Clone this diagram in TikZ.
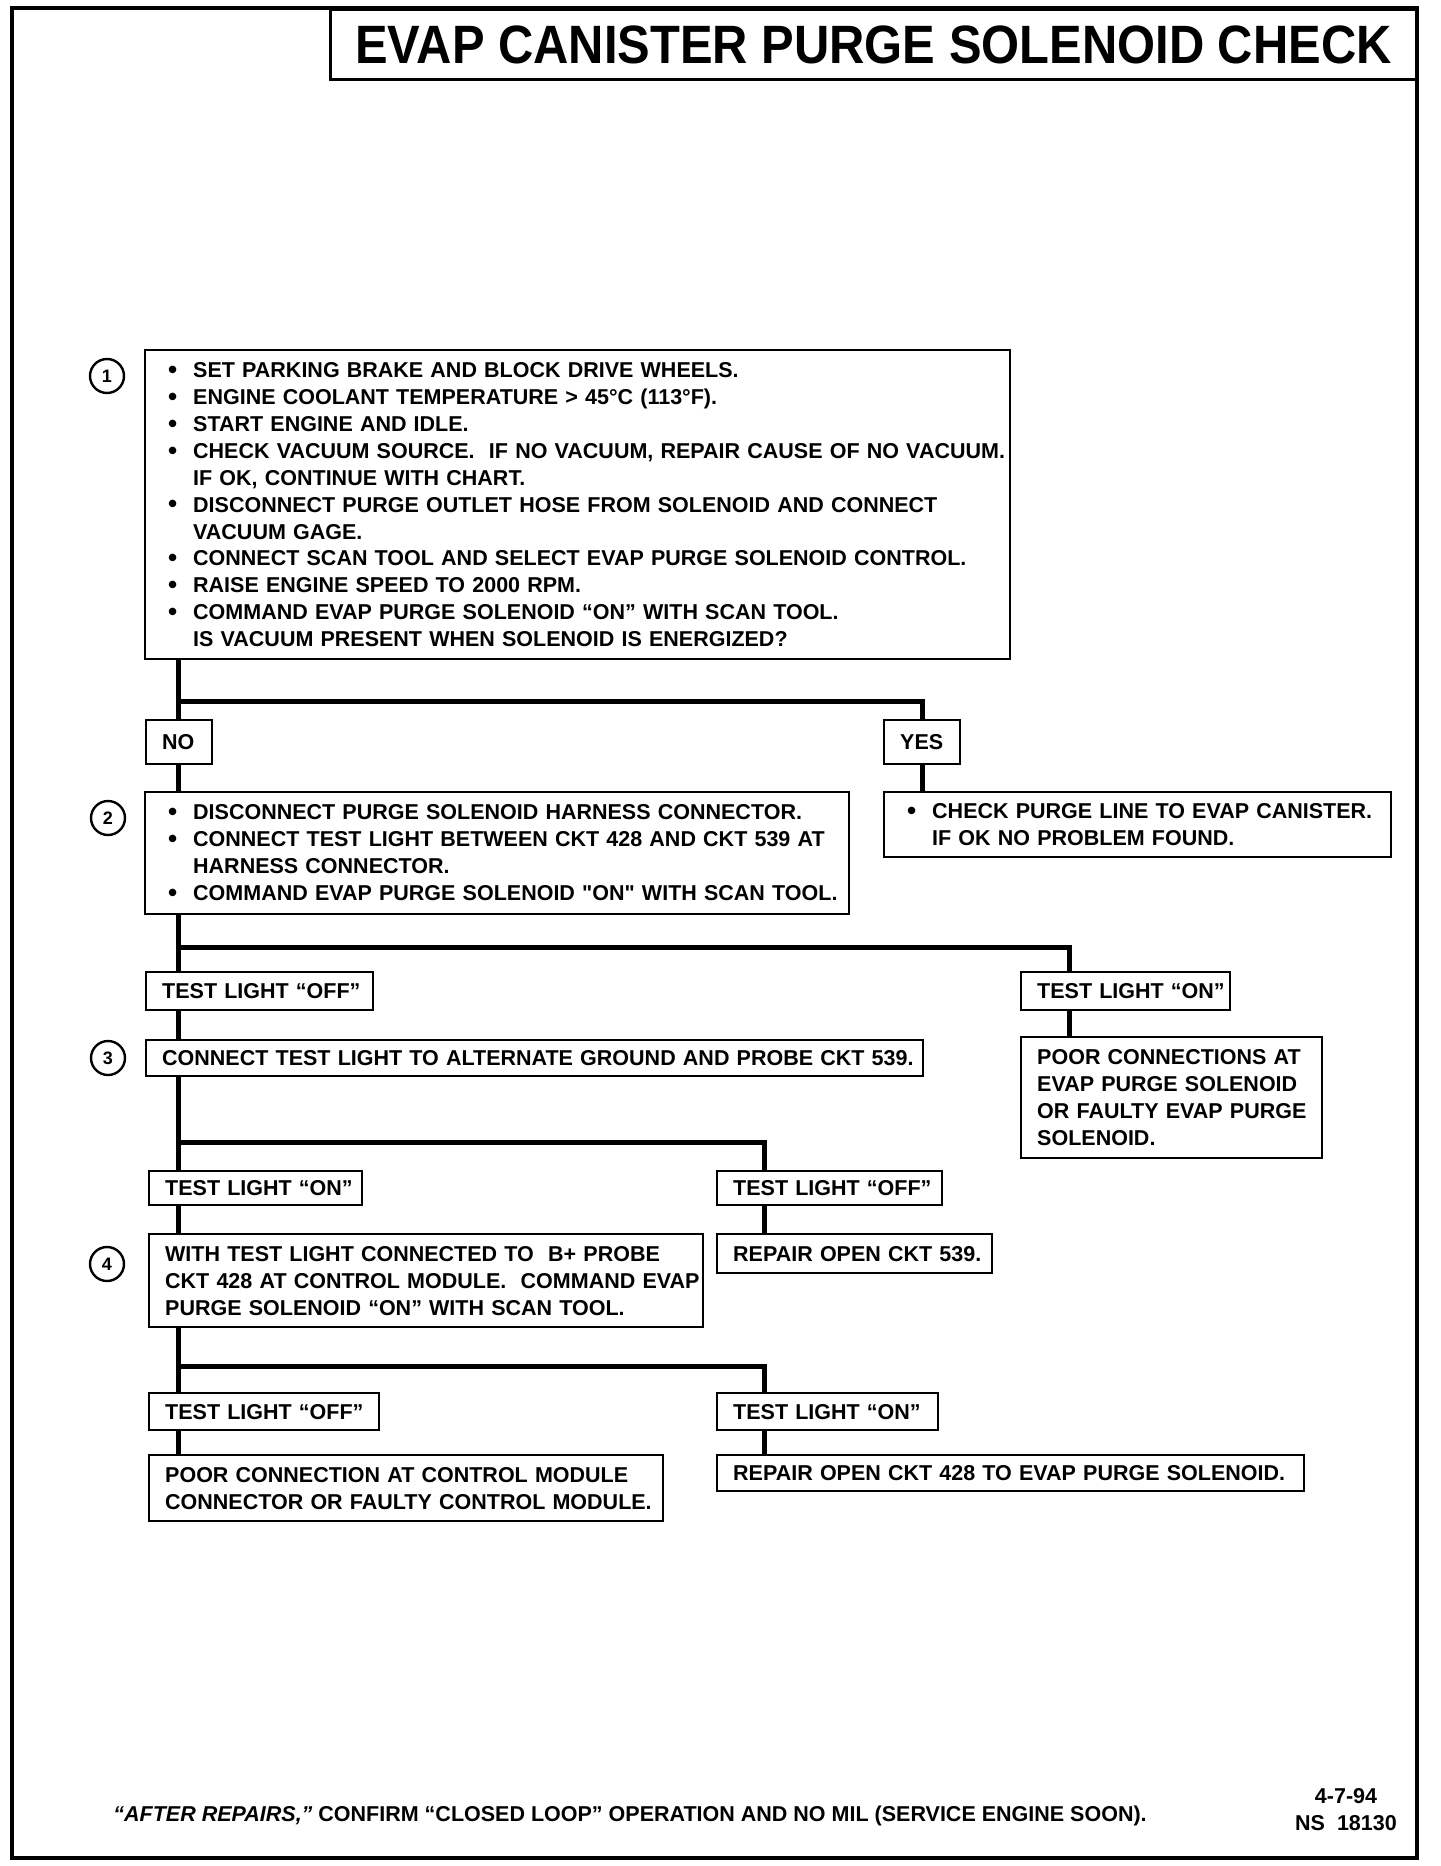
\documentclass[tikz,border=0pt]{standalone}
\usepackage{fontspec}
\setmainfont{Liberation Sans}

% one line of a box, kept whole
\newcommand{\dotmark}{\raisebox{-0.4pt}{\fontsize{13}{13}\selectfont\textbullet}}
\newcommand{\bul}[1]{\hspace*{3.5pt}\makebox[12.5pt][l]{\dotmark}\mbox{#1}}
\newcommand{\cnt}[1]{\hspace*{16pt}\mbox{#1}}
\newcommand{\row}[1]{\mbox{#1}}

\begin{document}
\begin{tikzpicture}[
        x=0.5pt, y=-0.5pt,
        body/.style={font=\fontsize{10.75}{13.45}\selectfont\bfseries},
        stepbox/.style={body, draw, line width=1.2pt, anchor=north west, align=left, inner xsep=8pt, inner ysep=0pt},
        stepnum/.style={draw, circle, line width=1.2pt, minimum size=17pt, inner sep=0pt, font=\fontsize{9}{9}\selectfont\bfseries},
        flow/.style={line width=2.5pt}
    ]

    \useasboundingbox (0,0) rectangle (1440,1866);

    % page frame and title
    \draw[line width=2pt] (12,8) rectangle (1417,1858);
    \node[draw, line width=1.5pt, minimum width=543.5pt, minimum height=35pt, inner sep=0pt,
          font=\fontsize{27}{27}\selectfont\bfseries] (title) at (873.5,45) {\scalebox{0.905}[1]{EVAP CANISTER PURGE SOLENOID CHECK}};

    % step 1
    \node[stepnum] (s1) at (107,376) {1};
    \node[stepbox, text width=416.5pt, minimum height=154.5pt] (b1) at (144,349) {
        \bul{SET PARKING BRAKE AND BLOCK DRIVE WHEELS.}\\
        \bul{ENGINE COOLANT TEMPERATURE > 45°C (113°F).}\\
        \bul{START ENGINE AND IDLE.}\\
        \bul{CHECK VACUUM SOURCE.\ \ IF NO VACUUM, REPAIR CAUSE OF NO VACUUM.}\\
        \cnt{IF OK, CONTINUE WITH CHART.}\\
        \bul{DISCONNECT PURGE OUTLET HOSE FROM SOLENOID AND CONNECT}\\
        \cnt{VACUUM GAGE.}\\
        \bul{CONNECT SCAN TOOL AND SELECT EVAP PURGE SOLENOID CONTROL.}\\
        \bul{RAISE ENGINE SPEED TO 2000 RPM.}\\
        \bul{COMMAND EVAP PURGE SOLENOID “ON” WITH SCAN TOOL.}\\
        \cnt{IS VACUUM PRESENT WHEN SOLENOID IS ENERGIZED?}
    };
    \node[stepbox, text width=17pt, minimum height=22pt] (no) at (145,719) {\row{NO}};
    \node[stepbox, text width=22pt, minimum height=22pt] (yes) at (883,719) {\row{YES}};

    % step 2
    \node[stepnum] (s2) at (108,818) {2};
    \node[stepbox, text width=336pt, minimum height=61pt] (b2) at (144,791) {
        \bul{DISCONNECT PURGE SOLENOID HARNESS CONNECTOR.}\\
        \bul{CONNECT TEST LIGHT BETWEEN CKT 428 AND CKT 539 AT}\\
        \cnt{HARNESS CONNECTOR.}\\
        \bul{COMMAND EVAP PURGE SOLENOID \textquotedbl ON\textquotedbl\ WITH SCAN TOOL.}
    };
    \node[stepbox, text width=237.5pt, minimum height=32.5pt] (ok1) at (883,791) {
        \bul{CHECK PURGE LINE TO EVAP CANISTER.}\\
        \cnt{IF OK NO PROBLEM FOUND.}
    };
    \node[stepbox, text width=97.5pt, minimum height=19pt] (off1) at (145,971) {\row{TEST LIGHT “OFF”}};
    \node[stepbox, text width=88.5pt, minimum height=19pt] (on1) at (1020,971) {\row{TEST LIGHT “ON”}};

    % step 3
    \node[stepnum] (s3) at (108,1058) {3};
    \node[stepbox, text width=372.5pt, minimum height=18pt] (b3) at (145,1039) {\row{CONNECT TEST LIGHT TO ALTERNATE GROUND AND PROBE CKT 539.}};
    \node[stepbox, text width=134.5pt, minimum height=60.5pt] (poor1) at (1020,1036) {
        \row{POOR CONNECTIONS AT}\\
        \row{EVAP PURGE SOLENOID}\\
        \row{OR FAULTY EVAP PURGE}\\
        \row{SOLENOID.}
    };
    \node[stepbox, text width=90.5pt, minimum height=17pt] (on2) at (148,1170) {\row{TEST LIGHT “ON”}};
    \node[stepbox, text width=96.5pt, minimum height=17pt] (off2) at (716,1170) {\row{TEST LIGHT “OFF”}};

    % step 4
    \node[stepnum] (s4) at (107,1264) {4};
    \node[stepbox, text width=261pt, minimum height=46.5pt] (b4) at (148,1233) {
        \row{WITH TEST LIGHT CONNECTED TO\ \ B+ PROBE}\\
        \row{CKT 428 AT CONTROL MODULE.\ \ COMMAND EVAP}\\
        \row{PURGE SOLENOID “ON” WITH SCAN TOOL.}
    };
    \node[stepbox, text width=121.5pt, minimum height=19.5pt] (rep539) at (716,1233) {\row{REPAIR OPEN CKT 539.}};
    \node[stepbox, text width=99pt, minimum height=18.5pt] (off3) at (148,1392) {\row{TEST LIGHT “OFF”}};
    \node[stepbox, text width=94.5pt, minimum height=18.5pt] (on3) at (716,1392) {\row{TEST LIGHT “ON”}};
    \node[stepbox, text width=241pt, minimum height=33pt] (poor2) at (148,1454) {
        \row{POOR CONNECTION AT CONTROL MODULE}\\
        \row{CONNECTOR OR FAULTY CONTROL MODULE.}
    };
    \node[stepbox, text width=277.5pt, minimum height=18pt] (rep428) at (716,1454) {\row{REPAIR OPEN CKT 428 TO EVAP PURGE SOLENOID.}};

    % branch points
    \coordinate (j1) at (178,701);
    \coordinate (k1) at (922,701);
    \coordinate (j2) at (178,947);
    \coordinate (k2) at (1069,947);
    \coordinate (j3) at (178,1142);
    \coordinate (k3) at (764,1142);
    \coordinate (j4) at (178,1366);
    \coordinate (k4) at (764,1366);

    % step 1 -> NO / YES
    \draw[flow] (b1.south -| j1) -- (no.north -| j1);
    \draw[flow] (j1) -- (k1) -- (yes.north -| k1);
    \draw[flow] (no.south -| j1) -- (b2.north -| j1);
    \draw[flow] (yes.south -| k1) -- (ok1.north -| k1);

    % step 2 -> test light
    \draw[flow] (b2.south -| j2) -- (off1.north -| j2);
    \draw[flow] (j2) -- (k2) -- (on1.north -| k2);
    \draw[flow] (off1.south -| j2) -- (b3.north -| j2);
    \draw[flow] (on1.south -| k2) -- (poor1.north -| k2);

    % step 3 -> test light
    \draw[flow] (b3.south -| j3) -- (on2.north -| j3);
    \draw[flow] (j3) -- (k3) -- (off2.north -| k3);
    \draw[flow] (on2.south -| j3) -- (b4.north -| j3);
    \draw[flow] (off2.south -| k3) -- (rep539.north -| k3);

    % step 4 -> test light
    \draw[flow] (b4.south -| j4) -- (off3.north -| j4);
    \draw[flow] (j4) -- (k4) -- (on3.north -| k4);
    \draw[flow] (off3.south -| j4) -- (poor2.north -| j4);
    \draw[flow] (on3.south -| k4) -- (rep428.north -| k4);

    % footer
    \node[body, anchor=west, inner sep=0pt] (note) at (113,1816) {\textit{“AFTER REPAIRS,”} CONFIRM “CLOSED LOOP” OPERATION AND NO MIL (SERVICE ENGINE SOON).};
    \node[body, align=center, inner sep=0pt] (code) at (1346,1810) {4-7-94\\NS\ \ 18130};

\end{tikzpicture}
\end{document}
